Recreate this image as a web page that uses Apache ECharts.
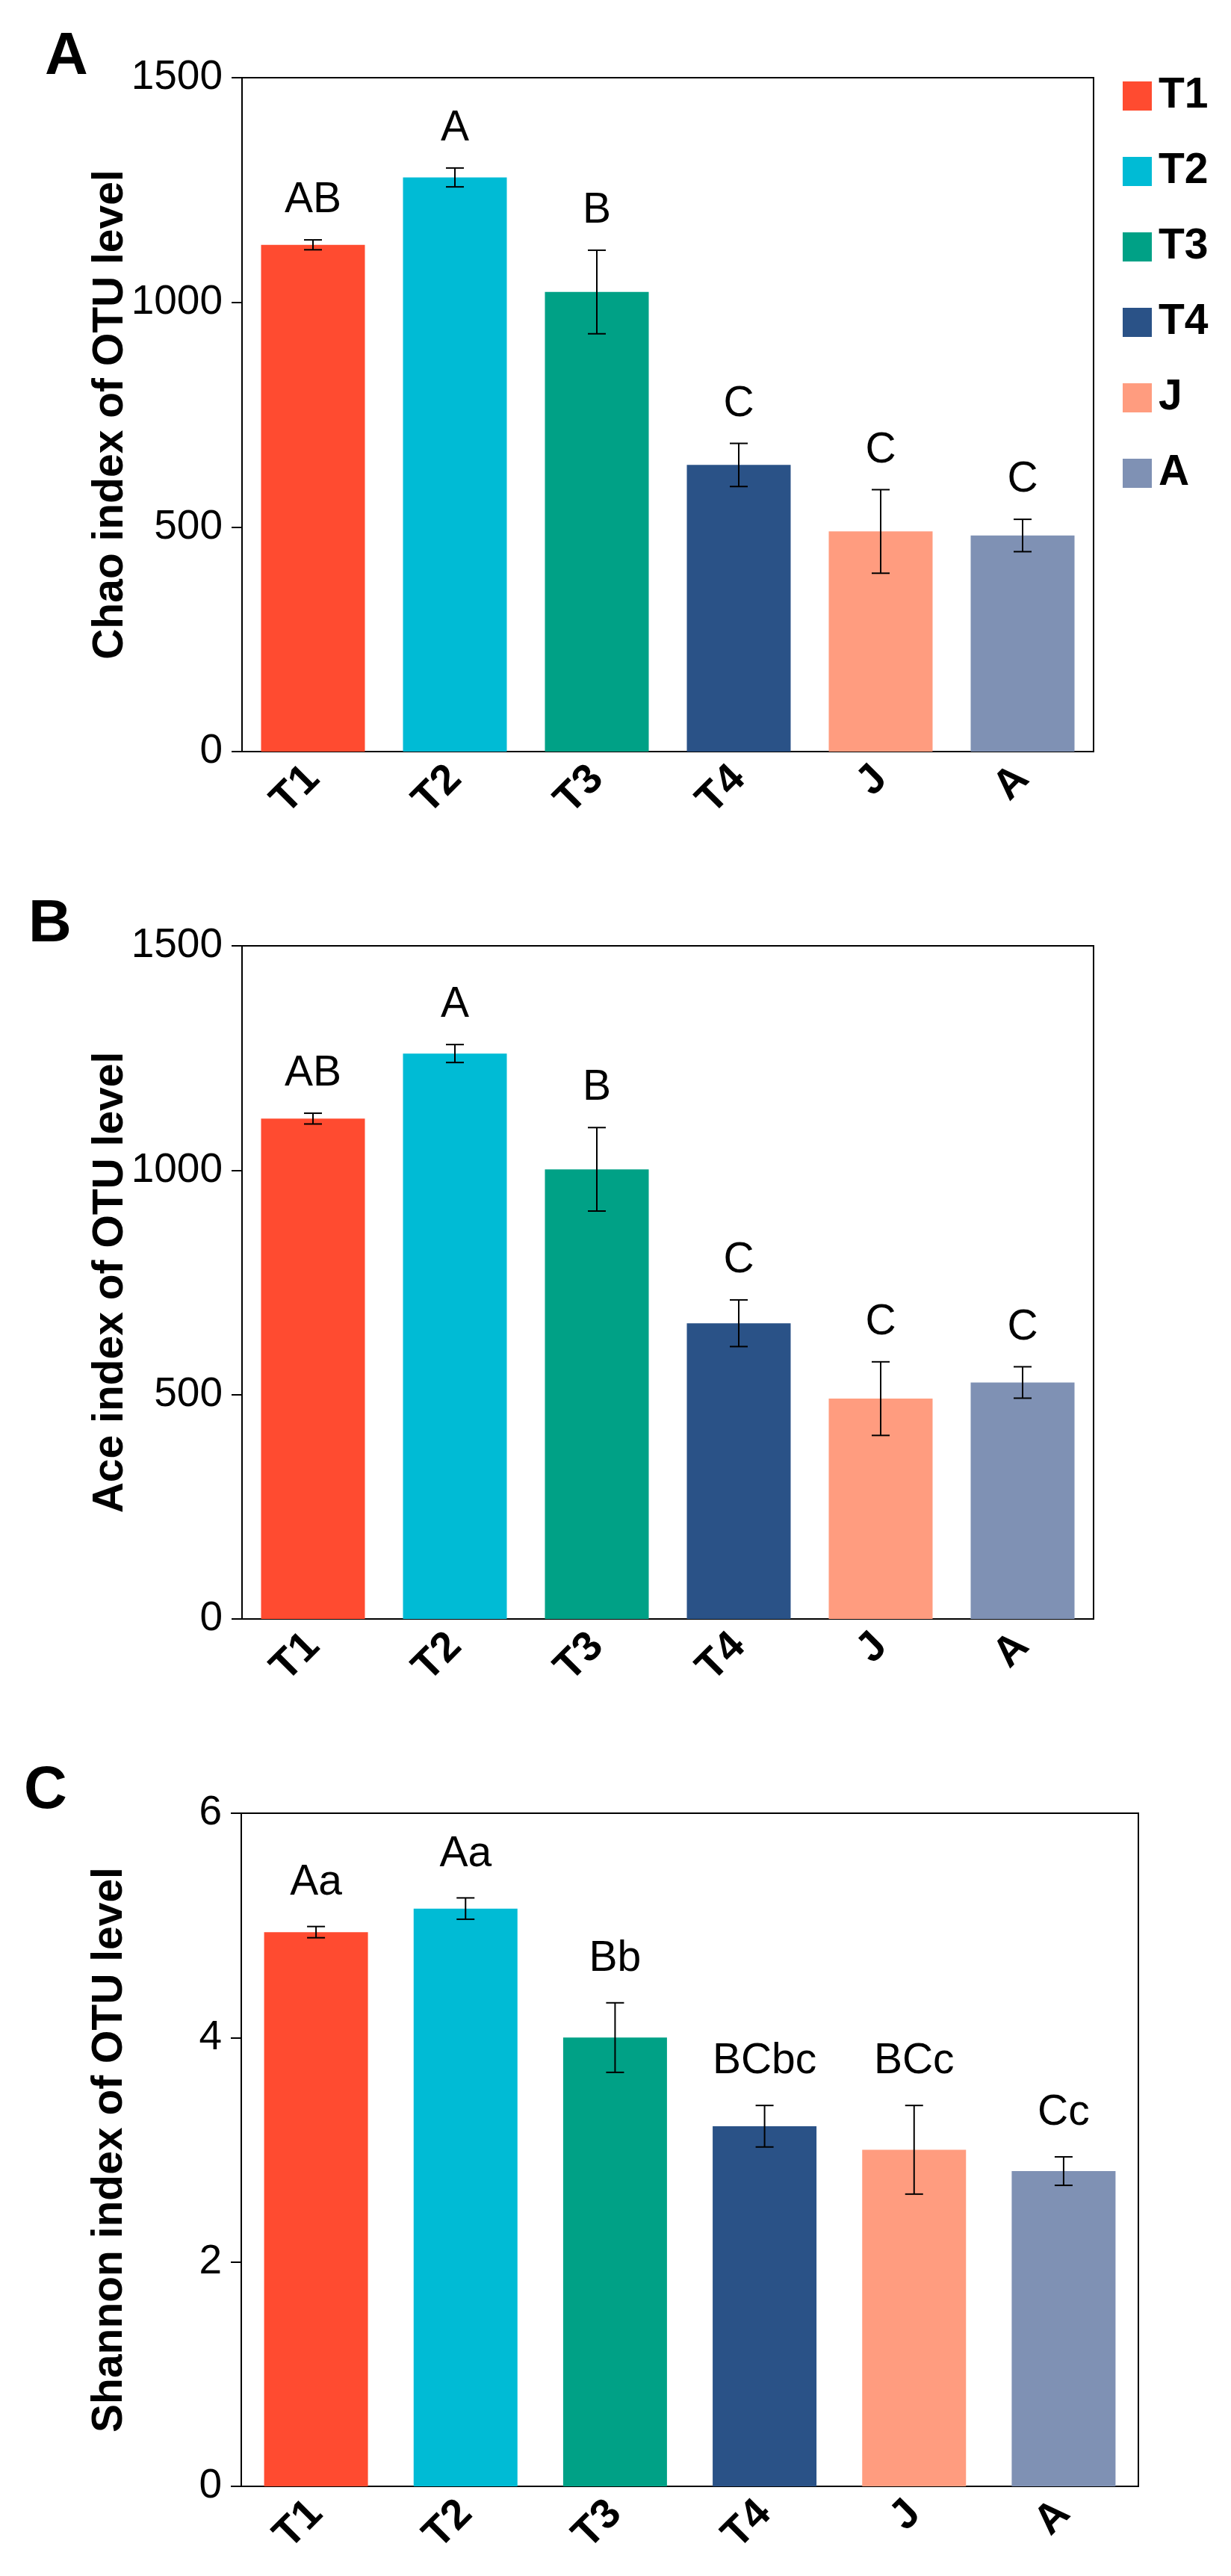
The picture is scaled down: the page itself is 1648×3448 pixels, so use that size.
<!DOCTYPE html>
<html>
<head>
<meta charset="utf-8">
<script src="https://cdn.jsdelivr.net/npm/echarts@6/dist/echarts.min.js"></script>
<style>
html,body{margin:0;padding:0;background:#fff;}
#chart{width:1648px;height:3448px;}
</style>
</head>
<body>
<div id="chart"></div>
<script>
// ---- data ----
const categories = ['T1', 'T2', 'T3', 'T4', 'J', 'A'];
const chaoMean = [1128, 1278, 1023, 638, 490, 481];
const chaoErr = [11, 21, 93, 48, 93, 36];
const chaoLetters = ['AB', 'A', 'B', 'C', 'C', 'C'];
const aceMean = [1115, 1260, 1002, 659, 491, 527];
const aceErr = [12, 20, 93, 52, 82, 35];
const aceLetters = ['AB', 'A', 'B', 'C', 'C', 'C'];
const shannonMean = [4.94, 5.15, 4.0, 3.21, 3.0, 2.81];
const shannonErr = [0.05, 0.095, 0.31, 0.185, 0.395, 0.127];
const shannonLetters = ['Aa', 'Aa', 'Bb', 'BCbc', 'BCc', 'Cc'];
const chaoTicks = [0, 500, 1000, 1500];
const aceTicks = [0, 500, 1000, 1500];
const shannonTicks = [0, 2, 4, 6];
const axisTitles = ['Chao index of OTU level', 'Ace index of OTU level', 'Shannon index of OTU level'];
const panelLetters = ['A', 'B', 'C'];

// ---- styles ----
const colors = ['#FF4B30', '#00BBD5', '#00A186', '#2A5287', '#FF9C7F', '#7F91B4'];
const FONT = '"Liberation Sans", Arial, sans-serif';

const panels = [
  { mean: chaoMean, err: chaoErr, letters: chaoLetters, ticks: chaoTicks, grid: { left: 324, right: 184, top: 104, height: 902 }, labelGap: 24, letterPos: [60, 77] },
  { mean: aceMean, err: aceErr, letters: aceLetters, ticks: aceTicks, grid: { left: 324, right: 184, top: 1266, height: 901 }, labelGap: 24, letterPos: [38, 1238] },
  { mean: shannonMean, err: shannonErr, letters: shannonLetters, ticks: shannonTicks, grid: { left: 323, right: 124, top: 2427, height: 901 }, labelGap: 30, letterPos: [32, 2398] }
];

const grids = [], xAxes = [], yAxes = [], series = [], graphics = [];

panels.forEach((p, pi) => {
  grids.push(Object.assign({ show: true, borderColor: '#000', borderWidth: 2, backgroundColor: 'transparent' }, p.grid));
  xAxes.push({
    type: 'category', gridIndex: pi, data: categories,
    axisLine: { lineStyle: { color: '#000', width: 2 } },
    axisTick: { alignWithLabel: true, length: 12, lineStyle: { color: '#000', width: 2 } },
    axisLabel: { rotate: 45, margin: 28, color: '#000', fontSize: 56, fontWeight: 'bold', fontFamily: FONT },
    splitLine: { show: false }
  });
  yAxes.push({
    type: 'value', gridIndex: pi,
    min: p.ticks[0], max: p.ticks[p.ticks.length - 1], interval: p.ticks[1] - p.ticks[0],
    name: axisTitles[pi], nameLocation: 'middle', nameRotate: 90, nameGap: 147, nameMoveOverlap: false,
    nameTextStyle: { color: '#000', fontSize: 57, fontWeight: 'bold', fontFamily: FONT },
    axisLine: { show: true, lineStyle: { color: '#000', width: 2 } },
    axisTick: { show: true, length: 14, lineStyle: { color: '#000', width: 2 } },
    axisLabel: { margin: 26, color: '#000', fontSize: 55, fontFamily: FONT, formatter: function (v) { return String(v); } },
    splitLine: { show: false }
  });
  categories.forEach((c, ci) => {
    series.push({
      type: 'bar', name: c, xAxisIndex: pi, yAxisIndex: pi,
      barWidth: 139, barGap: '-100%',
      itemStyle: { color: colors[ci] },
      data: categories.map((_, k) => (k === ci ? p.mean[k] : '-')),
      silent: true
    });
  });
  const errData = categories.map((_, k) => [k, p.mean[k] - p.err[k], p.mean[k] + p.err[k]]);
  series.push({
    type: 'custom', xAxisIndex: pi, yAxisIndex: pi, z: 10, silent: true, clip: false,
    data: errData,
    renderItem: function (params, api) {
      const k = api.value(0);
      const lo = api.coord([k, api.value(1)]);
      const hi = api.coord([k, api.value(2)]);
      const half = 12;
      const st = { stroke: '#000', lineWidth: 2 };
      return {
        type: 'group',
        children: [
          { type: 'line', shape: { x1: lo[0], y1: lo[1], x2: hi[0], y2: hi[1] }, style: st },
          { type: 'line', shape: { x1: hi[0] - half, y1: hi[1], x2: hi[0] + half, y2: hi[1] }, style: st },
          { type: 'line', shape: { x1: lo[0] - half, y1: lo[1], x2: lo[0] + half, y2: lo[1] }, style: st },
          { type: 'text', style: { text: p.letters[params.dataIndex], x: hi[0], y: hi[1] - p.labelGap, textAlign: 'center', textVerticalAlign: 'bottom', fill: '#000', fontSize: 57, fontFamily: FONT } }
        ]
      };
    }
  });
  graphics.push({
    type: 'text', left: p.letterPos[0], top: p.letterPos[1] - 40,
    style: { text: panelLetters[pi], fill: '#000', fontSize: 80, fontWeight: 'bold', fontFamily: FONT }
  });
});

const chart = echarts.init(document.getElementById('chart'), null, { renderer: 'canvas' });
chart.setOption({
  backgroundColor: '#fff',
  animation: false,
  grid: grids,
  xAxis: xAxes,
  yAxis: yAxes,
  legend: {
    data: categories, orient: 'vertical', left: 1498, top: 95,
    itemWidth: 39, itemHeight: 39, itemGap: 44, icon: 'rect', selectedMode: false,
    textStyle: { color: '#000', fontSize: 57, fontWeight: 'bold', fontFamily: FONT, padding: [0, 0, 0, 4] }
  },
  graphic: graphics,
  series: series
});
</script>
</body>
</html>
